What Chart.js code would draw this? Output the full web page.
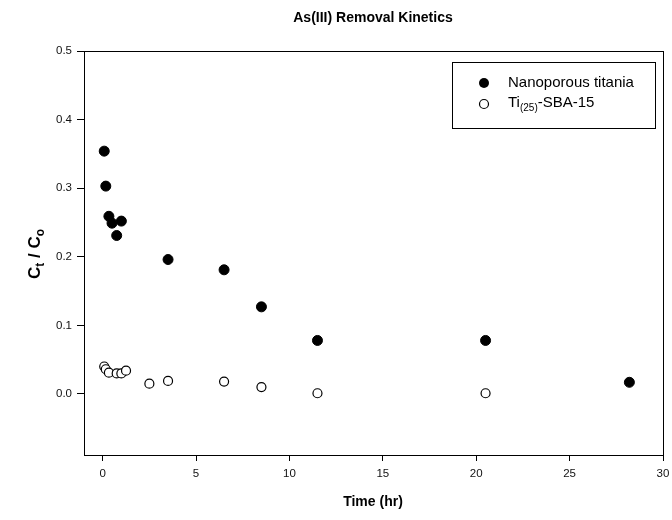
<!DOCTYPE html>
<html>
<head>
<meta charset="utf-8">
<script src="https://cdn.jsdelivr.net/npm/chart.js@4/dist/chart.umd.min.js"></script>
<style>
  html, body { margin: 0; padding: 0; background: #fff; }
  #wrap { width: 672px; height: 520px; }
</style>
</head>
<body>
<div id="wrap"><canvas id="kinetics" width="672" height="520"></canvas></div>
<script>
// data
var timeTitania  = [0.083, 0.167, 0.333, 0.5, 0.75, 1.0, 3.5, 6.5, 8.5, 11.5, 20.5, 28.2];
var ratioTitania = [0.354, 0.303, 0.259, 0.249, 0.231, 0.252, 0.196, 0.181, 0.127, 0.078, 0.078, 0.017];
var timeSba  = [0.083, 0.167, 0.333, 0.75, 1.0, 1.25, 2.5, 3.5, 6.5, 8.5, 11.5, 20.5];
var ratioSba = [0.040, 0.036, 0.031, 0.030, 0.030, 0.034, 0.015, 0.019, 0.018, 0.010, 0.001, 0.001];
var xTicks = [0, 5, 10, 15, 20, 25, 30];
var yTicks = [0.0, 0.1, 0.2, 0.3, 0.4, 0.5];

var FONT = 'Liberation Sans, Arial, sans-serif';

function toPoints( xs, ys )
{
    var pts = [];
    for (var i = 0; i < xs.length; i++) pts.push({ x: xs[i], y: ys[i] });
    return pts;
}

// bold text with subscripts, parts = [[text, isSub], ...], centred on x
function drawRich( ctx, parts, x, y, size )
{
    var subSize = Math.round(size * 0.7);
    var total = 0, widths = [];
    parts.forEach(function(p) {
        ctx.font = 'bold ' + (p[1] ? subSize : size) + 'px ' + FONT;
        var w = ctx.measureText(p[0]).width;
        widths.push(w); total += w;
    });
    var cx = x - total / 2;
    parts.forEach(function(p, i) {
        ctx.font = 'bold ' + (p[1] ? subSize : size) + 'px ' + FONT;
        ctx.fillText(p[0], cx, p[1] ? y + size * 0.35 : y);
        cx += widths[i];
    });
}

var framePlugin = {
    id: 'frame',
    afterDraw: function(chart) {
        var ctx = chart.ctx, a = chart.chartArea;
        ctx.save();
        ctx.strokeStyle = '#000';
        ctx.lineWidth = 1;
        ctx.strokeRect(Math.round(a.left) + 0.5, Math.round(a.top) + 0.5,
                       Math.round(a.right - a.left), Math.round(a.bottom - a.top));

        // titles
        ctx.fillStyle = '#000';
        ctx.textBaseline = 'middle';
        ctx.textAlign = 'left';
        drawRich(ctx, [['As(III) Removal Kinetics', false]], 373, 18, 14);
        drawRich(ctx, [['Time (hr)', false]], 373, 502, 14);

        ctx.save();
        ctx.translate(35, 254);
        ctx.rotate(-Math.PI / 2);
        drawRich(ctx, [['C', false], ['t', true], [' / C', false], ['o', true]], 0, 0, 17);
        ctx.restore();

        // legend
        ctx.strokeRect(452.5, 62.5, 203, 66);
        ctx.beginPath();
        ctx.arc(484, 83, 5, 0, Math.PI * 2);
        ctx.fillStyle = '#000';
        ctx.fill();
        ctx.beginPath();
        ctx.arc(484, 104, 4.5, 0, Math.PI * 2);
        ctx.fillStyle = '#fff';
        ctx.fill();
        ctx.lineWidth = 1.2;
        ctx.stroke();

        ctx.fillStyle = '#000';
        ctx.font = '15px ' + FONT;
        ctx.fillText('Nanoporous titania', 508, 83);
        var x = 508;
        ctx.fillText('Ti', x, 103);
        x += ctx.measureText('Ti').width;
        ctx.font = '10px ' + FONT;
        ctx.fillText('(25)', x, 108);
        x += ctx.measureText('(25)').width;
        ctx.font = '15px ' + FONT;
        ctx.fillText('-SBA-15', x, 103);
        ctx.restore();
    }
};

var ctxP = document.getElementById('kinetics').getContext('2d');
var chart = new Chart(ctxP, {
    type: 'scatter',
    data: {
        datasets: [
            {
                label: 'Nanoporous titania',
                data: toPoints(timeTitania, ratioTitania),
                backgroundColor: '#000',
                borderColor: '#000',
                borderWidth: 1,
                pointRadius: 5
            },
            {
                label: 'Ti(25)-SBA-15',
                data: toPoints(timeSba, ratioSba),
                backgroundColor: '#fff',
                borderColor: '#000',
                borderWidth: 1.2,
                pointRadius: 4.5
            }
        ]
    },
    options: {
        responsive: false,
        animation: false,
        layout: { padding: { left: 0, top: 51, right: 9, bottom: 0 } },
        plugins: {
            legend: { display: false },
            title: { display: false },
            tooltip: { enabled: false }
        },
        scales: {
            x: {
                type: 'linear',
                min: -1,
                max: 30,
                afterBuildTicks: function(scale) {
                    scale.ticks = xTicks.map(function(v) { return { value: v }; });
                },
                afterFit: function(scale) {
                    scale.height = 65;
                    scale.paddingLeft = 0;
                    scale.paddingRight = 0;
                },
                grid: { drawOnChartArea: false, drawTicks: true, tickLength: 6, color: '#000' },
                border: { color: '#000' },
                ticks: {
                    color: '#111',
                    padding: 6,
                    maxRotation: 0,
                    font: { family: FONT, size: 11.5 },
                    callback: function(v) { return String(v); }
                }
            },
            y: {
                type: 'linear',
                min: -0.089,
                max: 0.5,
                afterBuildTicks: function(scale) {
                    scale.ticks = yTicks.map(function(v) { return { value: v }; });
                },
                afterFit: function(scale) {
                    scale.width = 84;
                    scale.paddingTop = 0;
                    scale.paddingBottom = 0;
                },
                grid: { drawOnChartArea: false, drawTicks: true, tickLength: 7, color: '#000' },
                border: { color: '#000' },
                ticks: {
                    color: '#111',
                    padding: 5,
                    font: { family: FONT, size: 11.5 },
                    callback: function(v) { return v.toFixed(1); }
                }
            }
        }
    },
    plugins: [framePlugin]
});
</script>
</body>
</html>
